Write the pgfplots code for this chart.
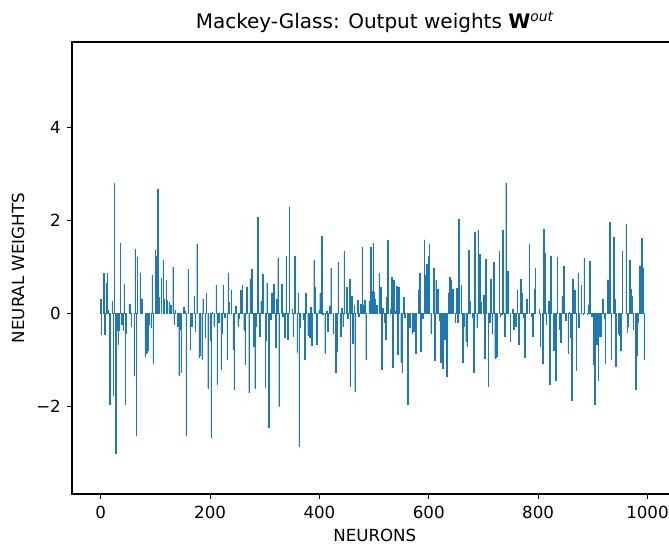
\documentclass[border=0pt]{standalone}
\usepackage{fontspec}
\setmainfont{DejaVu Sans}
\usepackage{pgfplots}
\pgfplotsset{compat=1.18}
\definecolor{mplblue}{HTML}{1F77B4}
\begin{document}
\begin{tikzpicture}
% 1 px of the reference = 0.72pt; axis lower-left corner at px (72,494)
\useasboundingbox (-51.84pt,-36.72pt) rectangle (429.84pt,355.68pt);
\clip (-51.84pt,-36.72pt) rectangle (429.84pt,355.68pt);
\begin{axis}[
  at={(0,0)},anchor=south west,
  scale only axis,
  width=436pt,height=325.4pt,
  xmin=-52.5,xmax=1055,
  ymin=-3.89,ymax=5.83,
  axis line style={line width=0.8pt},
  tick style={black,line width=0.8pt},
  major tick length=3.5pt,
  tick align=outside,
  xtick pos=bottom,ytick pos=left,
  xtick={0,200,400,600,800,1000},
  ytick={-2,0,2,4},
  yticklabels={−2,0,2,4},
  /pgf/number format/assume math mode=true,
  /pgf/number format/1000 sep={},
  ticklabel style={font=\fontsize{12}{14}\selectfont},
  xticklabel style={yshift=-2pt},
  yticklabel style={xshift=-1pt},
  title={\fontsize{14.4}{17}\selectfont Mackey-Glass: Output weights {\bfseries W}\textsuperscript{\itshape out}},
  title style={at={(axis description cs:0.5,1)},anchor=base,yshift=3.4pt,inner sep=0pt},
  xlabel={NEURONS},
  ylabel={NEURAL WEIGHTS},
  label style={font=\fontsize{12}{14}\selectfont,inner sep=0pt},
  xlabel style={at={(axis description cs:0.5,0)},anchor=center,yshift=-30pt},
  ylabel style={at={(axis description cs:0,0.5)},anchor=center,yshift=38.9pt},
  ybar,bar width=0.8,
]
\addplot[fill=mplblue,draw=mplblue,line width=0.2pt] coordinates {
(0,0.29) (1,-0.45) (5,0.86) (7,-0.46) (10,0.65) (12,0.86) (14,0.07) (16,-1.95)
(21,0.26) (23,-1.77) (25,2.80) (27,-3.01) (28,-0.36) (29,-0.36) (30,-0.36) (31,-0.36)
(32,-0.66) (33,-0.36) (36,1.50) (38,-0.23) (41,-0.36) (43,0.63) (45,-1.95) (47,-0.43)
(52,0.20) (54,0.20) (56,-0.27) (61,-1.34) (63,1.38) (65,-2.62) (67,1.20) (72,0.87)
(74,0.31) (75,0.31) (76,0.31) (81,-0.92) (83,-0.87) (85,-0.84) (87,-0.80) (89,-0.23)
(92,-0.30) (94,0.81) (96,-1.07) (100,1.35) (101,1.00) (102,1.22) (103,0.90) (104,2.67) (106,0.34)
(111,0.76) (114,1.13) (116,0.29) (120,0.70) (122,0.27) (125,0.24) (128,0.18) (132,0.99)
(134,-0.23) (136,0.07) (141,-0.27) (143,-1.34) (145,-0.34) (147,-1.28) (152,0.13) (154,0.05)
(156,-2.62) (160,0.95) (164,-0.77) (166,-0.27) (171,0.36) (173,-0.39) (176,1.48) (180,-0.95)
(181,-0.90) (182,-0.86) (185,-0.98) (187,0.31) (191,-0.52) (193,0.42) (196,-1.61) (200,-0.59)
(202,-2.67) (204,0.02) (207,-0.27) (211,0.60) (213,-1.53) (216,-0.19) (220,-1.21) (222,-0.44)
(224,0.61) (227,-0.09) (231,-1.00) (233,0.87) (235,0.23) (239,0.50) (242,-0.77) (244,-1.64)
(247,0.16) (251,-0.27) (253,-0.11) (256,0.50) (259,0.60) (262,-0.37) (264,-1.09) (267,0.55)
(271,-1.71) (273,0.74) (276,0.95) (280,-0.72) (282,-1.61) (284,-0.27) (287,2.06) (291,-0.49)
(293,0.26) (296,0.84) (301,-1.59) (303,-0.59) (304,0.65) (307,-2.45) (311,-0.12) (313,0.44)
(316,0.63) (320,-0.73) (322,0.29) (324,1.18) (326,-1.99) (331,0.63) (333,-0.06) (336,-0.52)
(339,1.22) (342,-0.55) (345,2.29) (350,0.09) (352,-0.49) (355,1.23) (359,-0.84) (361,0.44)
(363,-2.87) (365,-0.30) (370,-0.14) (373,-0.98) (375,0.44) (379,-0.48) (382,-0.52) (384,0.13)
(386,-0.68) (390,1.13) (392,0.56) (395,-0.67) (399,0.07) (401,0.42) (404,1.66) (406,-0.03)
(410,-0.86) (413,0.05) (415,-0.39) (419,0.16) (421,0.97) (425,-0.44) (430,-1.27) (432,-0.82)
(434,1.10) (439,-0.49) (441,0.10) (443,-0.29) (445,1.33) (450,0.55) (452,-0.10) (455,0.74)
(456,-1.56) (459,0.37) (461,-0.64) (464,0.18) (465,-1.68) (470,0.28) (472,-0.06) (475,0.20)
(478,1.42) (481,0.18) (483,0.28) (485,-1.00) (491,0.26) (492,0.26) (494,1.42) (495,0.40) (496,0.47)
(498,1.50) (499,0.45) (500,0.42) (502,0.31) (505,0.18) (509,0.87) (512,0.55) (514,-1.21) (516,0.11)
(519,-0.19) (521,-0.55) (523,0.34) (525,1.58) (530,0.09) (532,0.78) (534,-1.16) (536,0.71)
(539,0.04) (541,0.57) (543,-0.89) (545,0.55) (549,-1.05) (551,-1.28) (554,0.34) (556,-0.09)
(561,-1.95) (563,-0.27) (565,-0.30) (570,-0.44) (572,-0.39) (574,-0.30) (576,-0.87) (581,0.50)
(583,0.87) (585,-0.82) (589,-0.11) (592,1.58) (593,0.70) (594,0.81) (596,1.05) (597,0.90) (599,1.23)
(600,1.00) (601,1.48) (604,-0.44) (609,0.97) (611,-1.02) (613,0.71) (616,0.52) (620,-0.16) (622,-1.05)
(623,-0.90) (625,-1.18) (627,-0.17) (629,-0.57) (633,-1.36) (636,0.44) (638,0.77) (641,0.70) (644,0.52)
(648,-0.19) (651,0.54) (653,-0.19) (655,2.03) (659,0.60) (662,-1.05) (664,-0.27) (668,-0.61)
(670,-0.70) (673,1.35) (675,0.26) (680,-0.08) (682,-1.28) (684,1.74) (688,-0.30) (690,1.78)
(693,1.26) (695,0.24) (700,0.39) (702,-0.97) (704,1.16) (709,-1.58) (711,-0.19) (713,0.74)
(716,-0.44) (719,1.10) (721,-0.97) (722,-0.95) (724,-0.92) (729,1.33) (731,-0.06) (733,-0.03) (735,1.79)
(739,-0.49) (741,2.80) (744,0.90) (749,-0.60) (753,0.09) (755,-0.34) (759,-0.27) (762,0.50)
(764,-0.66) (768,0.74) (770,0.42) (773,-0.08) (775,-0.95) (779,0.29) (784,1.48) (788,-0.06)
(790,-0.49) (793,0.52) (795,0.97) (802,0.09) (804,-0.70) (808,-1.07) (810,1.81) (812,1.29)
(815,-0.23) (819,0.26) (821,-1.52) (823,1.23) (828,-0.79) (832,-1.45) (835,1.20) (839,-0.34)
(841,-0.62) (844,0.36) (847,1.02) (850,-0.16) (855,-0.86) (857,0.02) (859,-0.52) (861,-1.88)
(863,0.74) (867,0.49) (870,-1.23) (873,0.85) (874,-0.30) (879,0.60) (882,-0.03) (884,1.18)
(890,-0.03) (892,0.18) (894,1.11) (898,-0.06) (901,-1.09) (902,-1.00) (903,-1.95) (907,-0.66) (910,-1.45)
(911,-0.50) (912,-0.27) (914,-0.49) (918,0.31) (921,-0.11) (923,-1.07) (927,0.72) (929,0.20) (931,1.96)
(934,-0.98) (938,1.63) (940,0.31) (942,-1.13) (947,-0.44) (949,-0.48) (950,-0.60) (951,-0.79) (954,1.33)
(961,1.92) (963,-0.41) (965,-0.28) (967,1.13) (968,0.60) (969,0.52) (971,0.36) (974,-0.34) (978,-1.63)
(979,-0.50) (980,-0.91) (983,-0.19) (985,0.31) (986,1.00) (987,0.97) (988,1.00) (989,1.61) (991,0.97) (994,-0.98)
};
\end{axis}
\end{tikzpicture}
\end{document}
